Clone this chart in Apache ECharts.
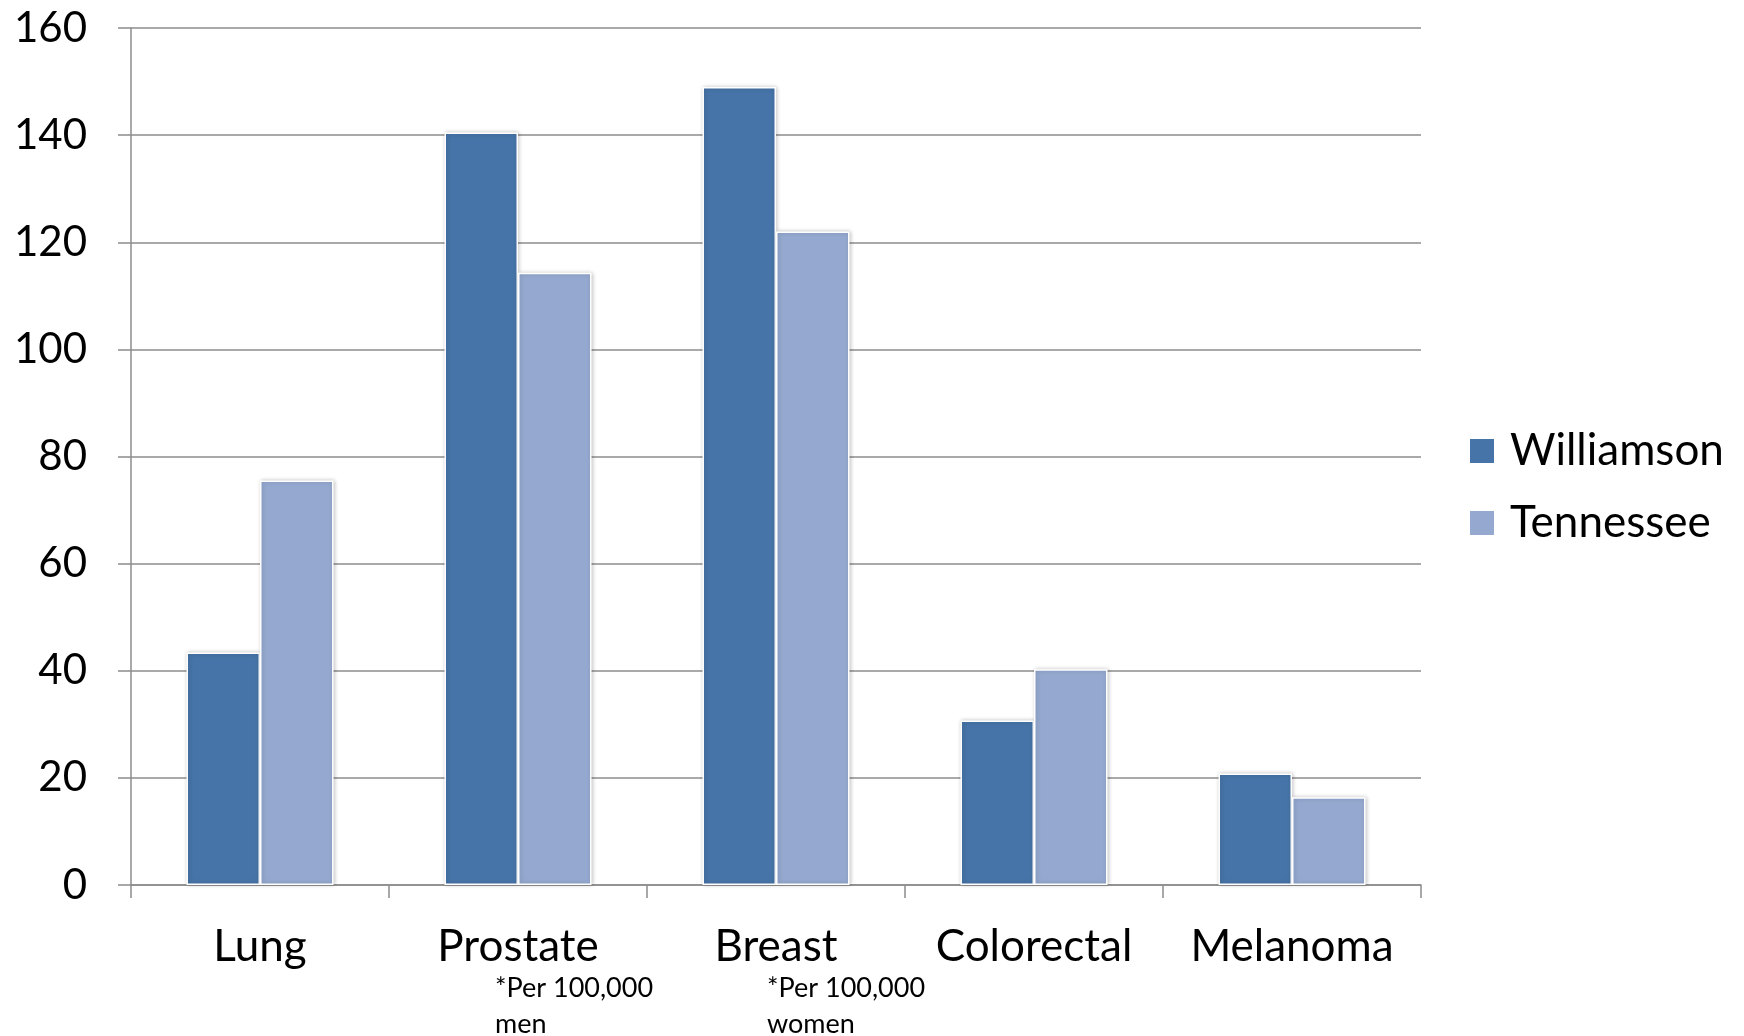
<!DOCTYPE html>
<html>
<head>
<meta charset="utf-8">
<title>Cancer incidence: Williamson vs Tennessee</title>
<script src="https://cdn.jsdelivr.net/npm/echarts@6/dist/echarts.min.js"></script>
<style>
  html, body { margin: 0; padding: 0; background: #fff; }
  #chart { width: 1744px; height: 1036px; }
</style>
</head>
<body>
<div id="chart"></div>
<script>
// Incidence rates per 100,000
const categories = ['Lung', 'Prostate', 'Breast', 'Colorectal', 'Melanoma'];
const williamson = [43.4, 140.5, 149.0, 30.7, 20.8];
const tennessee = [75.5, 114.3, 122.0, 40.3, 16.4];
const seriesNames = ['Williamson', 'Tennessee'];
const footnotes = [
  { text: '*Per 100,000\nmen', left: 495 },
  { text: '*Per 100,000\nwomen', left: 767 }
];

const FONT = 'Lato, "Open Sans", sans-serif';
const GRID_GRAY = '#8c8c8c';
const DARK = '#4674a8';
const LIGHT = '#95a9d0';

const chart = echarts.init(document.getElementById('chart'));

const barStyle = (color) => ({
  color: color,
  borderColor: '#ffffff',
  borderWidth: 1.5,
  shadowBlur: 4,
  shadowOffsetX: 1,
  shadowColor: 'rgba(0,0,0,0.22)'
});

chart.setOption({
  backgroundColor: '#ffffff',
  animation: false,
  grid: { left: 131, right: 323, top: 28, bottom: 151 },
  legend: {
    orient: 'vertical',
    left: 1463,
    top: 424,
    itemWidth: 26,
    itemHeight: 26,
    itemGap: 28,
    icon: 'rect',
    textStyle: { fontFamily: FONT, fontSize: 44, color: '#000', padding: [0, 0, 0, 10] },
    data: seriesNames
  },
  xAxis: {
    type: 'category',
    data: categories,
    axisLine: { lineStyle: { color: GRID_GRAY, width: 1.5 } },
    axisTick: { show: true, interval: 0, length: 13, lineStyle: { color: GRID_GRAY, width: 1.5 } },
    axisLabel: { interval: 0, fontFamily: FONT, fontSize: 44, color: '#000', margin: 40 }
  },
  yAxis: {
    type: 'value',
    min: 0,
    max: 160,
    interval: 20,
    axisLine: { show: true, lineStyle: { color: GRID_GRAY, width: 1.5 } },
    axisTick: { show: true, length: 13, lineStyle: { color: GRID_GRAY, width: 1.5 } },
    splitLine: { lineStyle: { color: GRID_GRAY, width: 1.5 } },
    axisLabel: { fontFamily: FONT, fontSize: 42, color: '#000', margin: 44 }
  },
  series: [
    {
      name: seriesNames[0],
      type: 'bar',
      data: williamson,
      barGap: '0%',
      barCategoryGap: '43%',
      itemStyle: barStyle(DARK)
    },
    {
      name: seriesNames[1],
      type: 'bar',
      data: tennessee,
      barGap: '0%',
      barCategoryGap: '43%',
      itemStyle: barStyle(LIGHT)
    }
  ],
  graphic: footnotes.map(n => ({
    type: 'text',
    left: n.left,
    top: 970,
    style: {
      text: n.text,
      fontFamily: FONT,
      fontSize: 27,
      lineHeight: 36,
      fill: '#000'
    }
  }))
});
</script>
</body>
</html>
